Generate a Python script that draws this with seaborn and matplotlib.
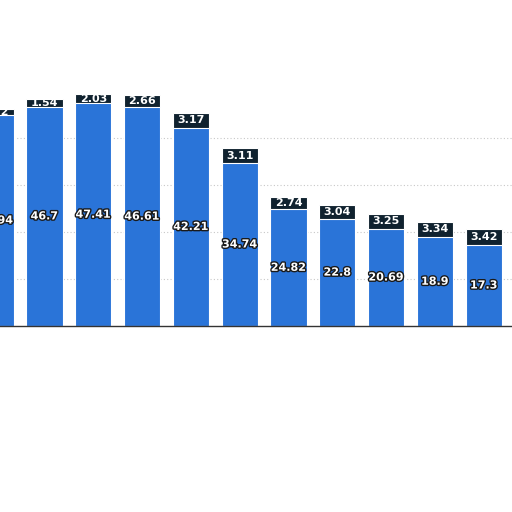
import matplotlib
matplotlib.use("Agg")
import matplotlib.pyplot as plt
import matplotlib.patheffects as pe
import pandas as pd
import seaborn as sns

# --- DATA (first bar is cut off at the left edge) ---
periods = ["P1", "P2", "P3", "P4", "P5", "P6", "P7", "P8", "P9", "P10", "P11"]
base_vals = [44.94, 46.7, 47.41, 46.61, 42.21, 34.74, 24.82, 22.8, 20.69, 18.9, 17.3]
top_vals = [1.22, 1.54, 2.03, 2.66, 3.17, 3.11, 2.74, 3.04, 3.25, 3.34, 3.42]

BLUE = "#2a74d8"
NAVY = "#10222f"

df = pd.DataFrame({"period": periods, "base": base_vals, "top": top_vals})
df["total"] = df["base"] + df["top"]

sns.set_style("white")
fig = plt.figure(figsize=(5.12, 5.12), dpi=100)
# axes placed so the first bar hangs off the left edge like the reference crop
ax = fig.add_axes([0.0, 0.363, 1.0, 0.459])

sns.barplot(data=df, x="period", y="total", color=NAVY, width=0.74,
            saturation=1, ax=ax, edgecolor="white", linewidth=0.8)
sns.barplot(data=df, x="period", y="base", color=BLUE, width=0.74,
            saturation=1, ax=ax, edgecolor="white", linewidth=0.8)

ax.set_xlim(0.088, 10.58)
ax.set_ylim(0, 50)
ax.set_yticks([10, 20, 30, 40])
ax.yaxis.grid(True, linestyle=(0, (1, 2)), color="#c8c8c8", linewidth=0.8)
ax.set_axisbelow(True)
ax.set_xlabel("")
ax.set_ylabel("")
ax.set_xticklabels([])
ax.set_yticklabels([])
ax.tick_params(length=0)
for side in ["top", "right", "left"]:
    ax.spines[side].set_visible(False)
ax.spines["bottom"].set_color("#333333")
ax.spines["bottom"].set_linewidth(1.0)

outline = [pe.withStroke(linewidth=2, foreground="#1a1a1a")]
for i, (b, t) in enumerate(zip(base_vals, top_vals)):
    ax.text(i, b / 2, f"{b:g}", ha="center", va="center", color="white",
            fontsize=8, fontweight="bold", path_effects=outline, clip_on=False)
    ax.text(i, b + t / 2, f"{t:g}", ha="center", va="center", color="white",
            fontsize=8, fontweight="bold", clip_on=False)

fig.savefig("out.png", dpi=100)
